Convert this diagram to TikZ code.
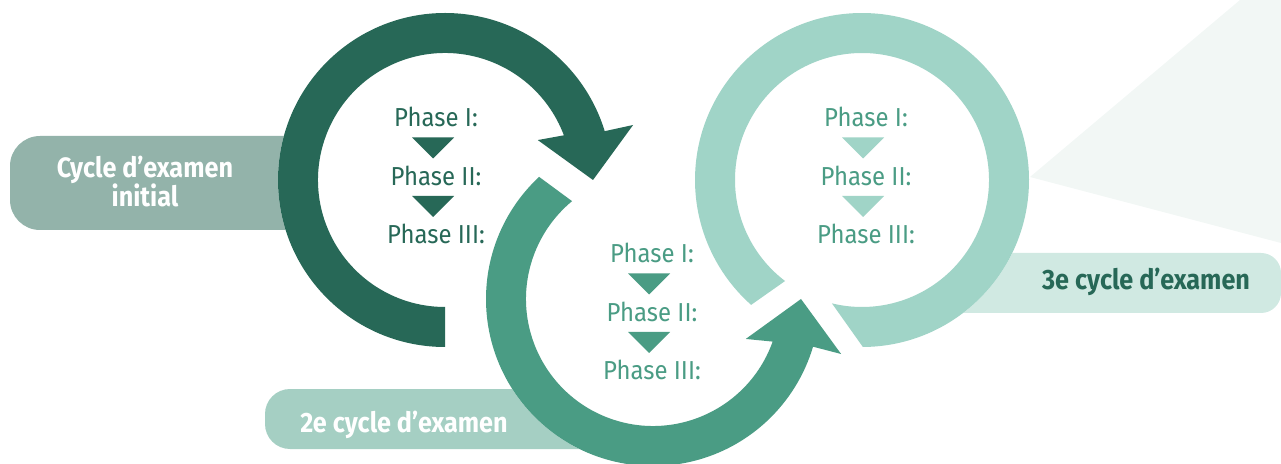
\documentclass[tikz,border=0pt]{standalone}
\usepackage{fontspec}
\usetikzlibrary{calc}
\setmainfont{Fira Sans}
\newfontfamily\phasefont{Fira Sans}[FakeStretch=0.92]
\newfontfamily\cyclefont{Fira Sans}[FakeStretch=0.9]

\definecolor{ringdark}{HTML}{276857}
\definecolor{ringmid}{HTML}{4A9C84}
\definecolor{ringlight}{HTML}{A0D4C7}
\definecolor{barone}{HTML}{93B3AA}
\definecolor{bartwo}{HTML}{A5CFC3}
\definecolor{barthree}{HTML}{D0E9E2}
\definecolor{spot}{HTML}{F2F7F5}

\tikzset{
  phase/.style={anchor=base, inner sep=0pt, font=\phasefont\fontsize{26}{28}\selectfont},
  cyclelabel/.style={inner sep=0pt, text=white, align=center,
    font=\cyclefont\bfseries\fontsize{28}{29}\selectfont},
}

\begin{document}
\begin{tikzpicture}[x=1pt,y=1pt]
    \clip (0,0) rectangle (1281,463);

    % centres of the three cycles
    \coordinate (c1) at (445,283);
    \coordinate (c2) at (653,164);
    \coordinate (c3) at (862,283);

    % pale wedge behind the third cycle
    \fill[spot] (1030,286) -- (1240,463) -- (1281,463) -- (1281,220) -- cycle;

    % label bars (their inner ends hide under the rings)
    \fill[barone, rounded corners=30] (10,233) rectangle (c1 |- 0,327);
    \fill[bartwo, rounded corners=25] (265,14) rectangle (c2 |- 0,74);
    \fill[barthree, rounded corners=20] (c3 |- 0,150) rectangle (1281,210);
    \foreach \c in {c1,c2,c3}
        \fill[white] (\c) circle (167);

    % first cycle, arrow ends at the right
    \begin{scope}[shift={(c1)}]
        \fill[ringdark] (270:167) arc[start angle=270, end angle=17, radius=167]
            -- (16.3:196) -- (0:148) -- (23.3:101) -- (20.6:127)
            arc[start angle=20.6, end angle=270, radius=127] -- cycle;
    \end{scope}

    % second cycle, runs round the bottom
    \begin{scope}[shift={(c2)}]
        \fill[ringmid] (133:167) arc[start angle=133, end angle=343.4, radius=167]
            -- (343.7:196) -- (360:148) -- (336.7:101) -- (340.4:127)
            arc[start angle=340.4, end angle=129.6, radius=127] -- cycle;
    \end{scope}

    % third cycle, open at the lower left
    \begin{scope}[shift={(c3)}]
        \fill[ringlight] (-89.7:167) arc[start angle=-89.7, end angle=228.4, radius=167]
            -- (232.7:127) arc[start angle=232.7, end angle=-103.7, radius=127] -- cycle;
    \end{scope}

    % phases inside each cycle
    \foreach \n/\x/\y/\txt/\tri in {1/436/336/ringdark/ringdark,
                                    2/652/200/ringmid/ringmid,
                                    3/866/336/ringmid/ringlight}{
        \node[phase, text=\txt] (ph\n-1) at (\x,\y) {Phase I:};
        \node[phase, text=\txt] (ph\n-2) at (\x,\y-58.5) {Phase II:};
        \node[phase, text=\txt] (ph\n-3) at (\x,\y-117) {Phase III:};
        \fill[\tri] ($(ph\n-1.base)+(-24,-10.5)$) -- ++(42,0) -- ++(-21,-21) -- cycle;
        \fill[\tri] ($(ph\n-2.base)+(-24,-10.5)$) -- ++(42,0) -- ++(-21,-21) -- cycle;
    }

    % bar labels
    \node[cyclelabel] (lab1) at (145,281) {Cycle d’examen\\initial};
    \node[cyclelabel, anchor=base] (lab2) at (404,31) {2e cycle d’examen};
    \node[cyclelabel, anchor=base, text=ringdark] (lab3) at (1146,173) {3e cycle d’examen};
\end{tikzpicture}
\end{document}
